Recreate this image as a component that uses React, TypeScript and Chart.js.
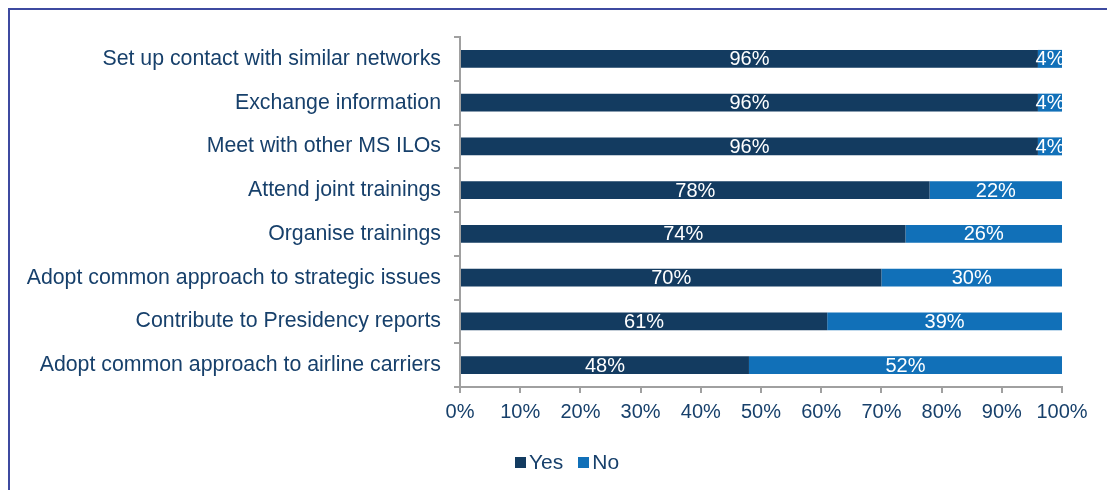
import React, { useEffect, useRef } from "react";
import { Chart, registerables } from "chart.js";

Chart.register(...registerables);

const categories = [
  "Set up contact with similar networks",
  "Exchange information",
  "Meet with other MS ILOs",
  "Attend joint trainings",
  "Organise trainings",
  "Adopt common approach to strategic issues",
  "Contribute to Presidency reports",
  "Adopt common approach to airline carriers",
];
const yesValues = [96, 96, 96, 78, 74, 70, 61, 48];
const noValues = [4, 4, 4, 22, 26, 30, 39, 52];
const xTicks = [0, 10, 20, 30, 40, 50, 60, 70, 80, 90, 100];
const seriesNames = ["Yes", "No"];

const FONT = "'Liberation Sans', Arial, sans-serif";
const TEXT = "#17406b";
const YES = "#133b60";
const NO = "#1170b8";
const seriesColors = [YES, NO];

const valueLabels = {
  id: "valueLabels",
  afterDatasetsDraw(chart: any) {
    const ctx = chart.ctx;
    ctx.save();
    ctx.fillStyle = "#ffffff";
    ctx.font = `20px ${FONT}`;
    ctx.textAlign = "center";
    ctx.textBaseline = "middle";
    chart.data.datasets.forEach((ds: any, di: number) => {
      const meta = chart.getDatasetMeta(di);
      meta.data.forEach((bar: any, i: number) => {
        const p = bar.getProps(["x", "y", "base"], true);
        const cx = (p.x + p.base) / 2;
        ctx.fillText(`${ds.data[i]}%`, cx, p.y + 1);
      });
    });
    ctx.restore();
  },
};

export default function App() {
  const ref = useRef<HTMLCanvasElement>(null);
  useEffect(() => {
    if (!ref.current) return;
    const chart = new Chart(ref.current, {
      type: "bar",
      data: {
        labels: categories,
        datasets: [
          { label: seriesNames[0], data: yesValues, backgroundColor: YES, barPercentage: 0.41, categoryPercentage: 1 },
          { label: seriesNames[1], data: noValues, backgroundColor: NO, barPercentage: 0.41, categoryPercentage: 1 },
        ],
      },
      options: {
        indexAxis: "y",
        animation: false,
        responsive: false,
        maintainAspectRatio: false,
        layout: { padding: { left: 20, right: 45, top: 37, bottom: 47 } },
        scales: {
          x: {
            stacked: true,
            min: 0,
            max: 100,
            afterBuildTicks: (s: any) => {
              s.ticks = xTicks.map((v) => ({ value: v }));
            },
            afterFit: (s: any) => {
              s.height = 56;
            },
            border: { display: true, color: "#a0a0a0", width: 2 },
            grid: { display: true, drawOnChartArea: false, drawTicks: true, tickLength: 6, color: "#a0a0a0", lineWidth: 2 },
            ticks: {
              color: TEXT,
              font: { family: FONT, size: 20 },
              padding: 7,
              maxRotation: 0,
              callback: (v: any) => `${v}%`,
            },
          },
          y: {
            stacked: true,
            afterFit: (s: any) => {
              s.width = 440;
            },
            border: { display: true, color: "#a0a0a0", width: 2 },
            grid: { display: true, offset: true, drawOnChartArea: false, drawTicks: true, tickLength: 6, color: "#a0a0a0", lineWidth: 2 },
            ticks: {
              color: TEXT,
              font: { family: FONT, size: 21.3 },
              padding: 13,
            },
          },
        },
        plugins: {
          legend: { display: false },
          tooltip: { enabled: false },
        },
      },
      plugins: [valueLabels],
    });
    return () => chart.destroy();
  }, []);
  return (
    <div style={{ position: "fixed", left: 0, top: 0, width: 1107, height: 490, background: "#fff" }}>
      <div
        style={{
          position: "absolute",
          left: 8,
          top: 8,
          width: 1200,
          height: 600,
          borderLeft: "2px solid #3d4aa0",
          borderTop: "2px solid #3d4aa0",
        }}
      />
      <canvas ref={ref} width={1107} height={490} style={{ position: "absolute", left: 0, top: 0 }} />
      <div
        style={{
          position: "absolute",
          left: 515,
          top: 450,
          display: "flex",
          alignItems: "center",
          fontFamily: FONT,
          fontSize: 21,
          color: TEXT,
          lineHeight: "24px",
        }}
      >
        {seriesNames.map((n, i) => (
          <div key={n} style={{ display: "flex", alignItems: "center", marginRight: 15 }}>
            <span style={{ display: "inline-block", width: 11, height: 11, background: seriesColors[i], marginRight: 3 }} />
            <span>{n}</span>
          </div>
        ))}
      </div>
    </div>
  );
}
